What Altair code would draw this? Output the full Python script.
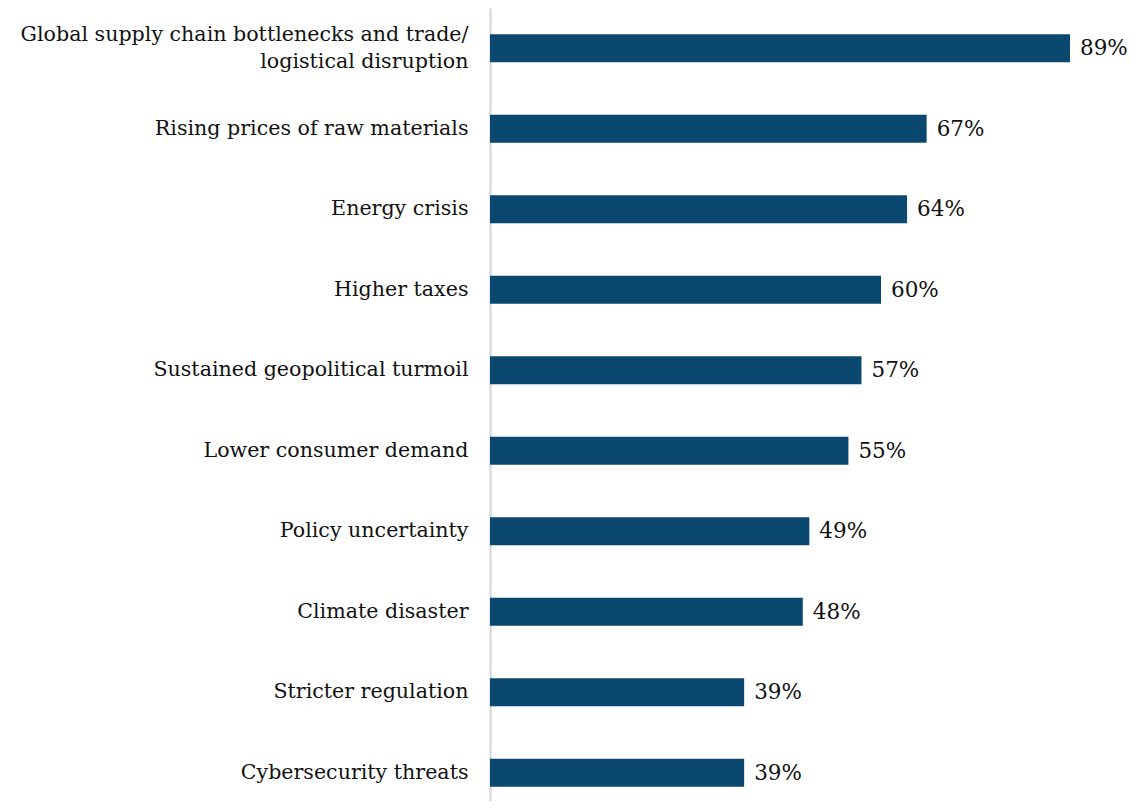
import altair as alt
import pandas as pd

categories = [
    "Global supply chain bottlenecks and trade/|logistical disruption",
    "Rising prices of raw materials",
    "Energy crisis",
    "Higher taxes",
    "Sustained geopolitical turmoil",
    "Lower consumer demand",
    "Policy uncertainty ",
    "Climate disaster",
    "Stricter regulation",
    "Cybersecurity threats",
]
values = [89, 67, 64, 60, 57, 55, 49, 48, 39, 39]

df = pd.DataFrame({"category": categories, "value": values})
df["label"] = [f"{v}%" for v in values]

FONT = "DejaVu Serif"
BAR = "#0b4870"

y = alt.Y(
    "category:N",
    sort=categories,
    title=None,
    scale=alt.Scale(paddingInner=0.652, paddingOuter=0.326),
    axis=alt.Axis(
        ticks=False,
        domainColor="#d4d4d4",
        domainWidth=2,
        labelFont=FONT,
        labelFontSize=20.6,
        labelColor="#111111",
        labelPadding=22,
        labelLimit=600,
        labelLineHeight=27,
        labelOffset=alt.condition("indexof(datum.label, '|') >= 0", alt.value(-13), alt.value(0)),
        labelExpr="split(datum.label, '|')",
    ),
)
x = alt.X(
    "value:Q",
    scale=alt.Scale(domain=[0, 89], nice=False),
    axis=None,
)

bars = alt.Chart(df).mark_bar(color=BAR).encode(x=x, y=y)
text = alt.Chart(df).mark_text(
    align="left", baseline="middle", dx=10, dy=1, font=FONT, fontSize=21.5, color="#111111"
).encode(x=x, y=alt.Y("category:N", sort=categories), text="label:N")

chart = (
    alt.layer(bars, text)
    .properties(
        width=580,
        height=805,
        background="white",
        autosize=alt.AutoSizeParams(type="none"),
        padding={"left": 482, "top": 0, "right": 57, "bottom": -12},
    )
    .configure_view(strokeWidth=0, stroke="transparent")
)

chart.save("out.html", embed_options={"renderer": "svg", "actions": False})
